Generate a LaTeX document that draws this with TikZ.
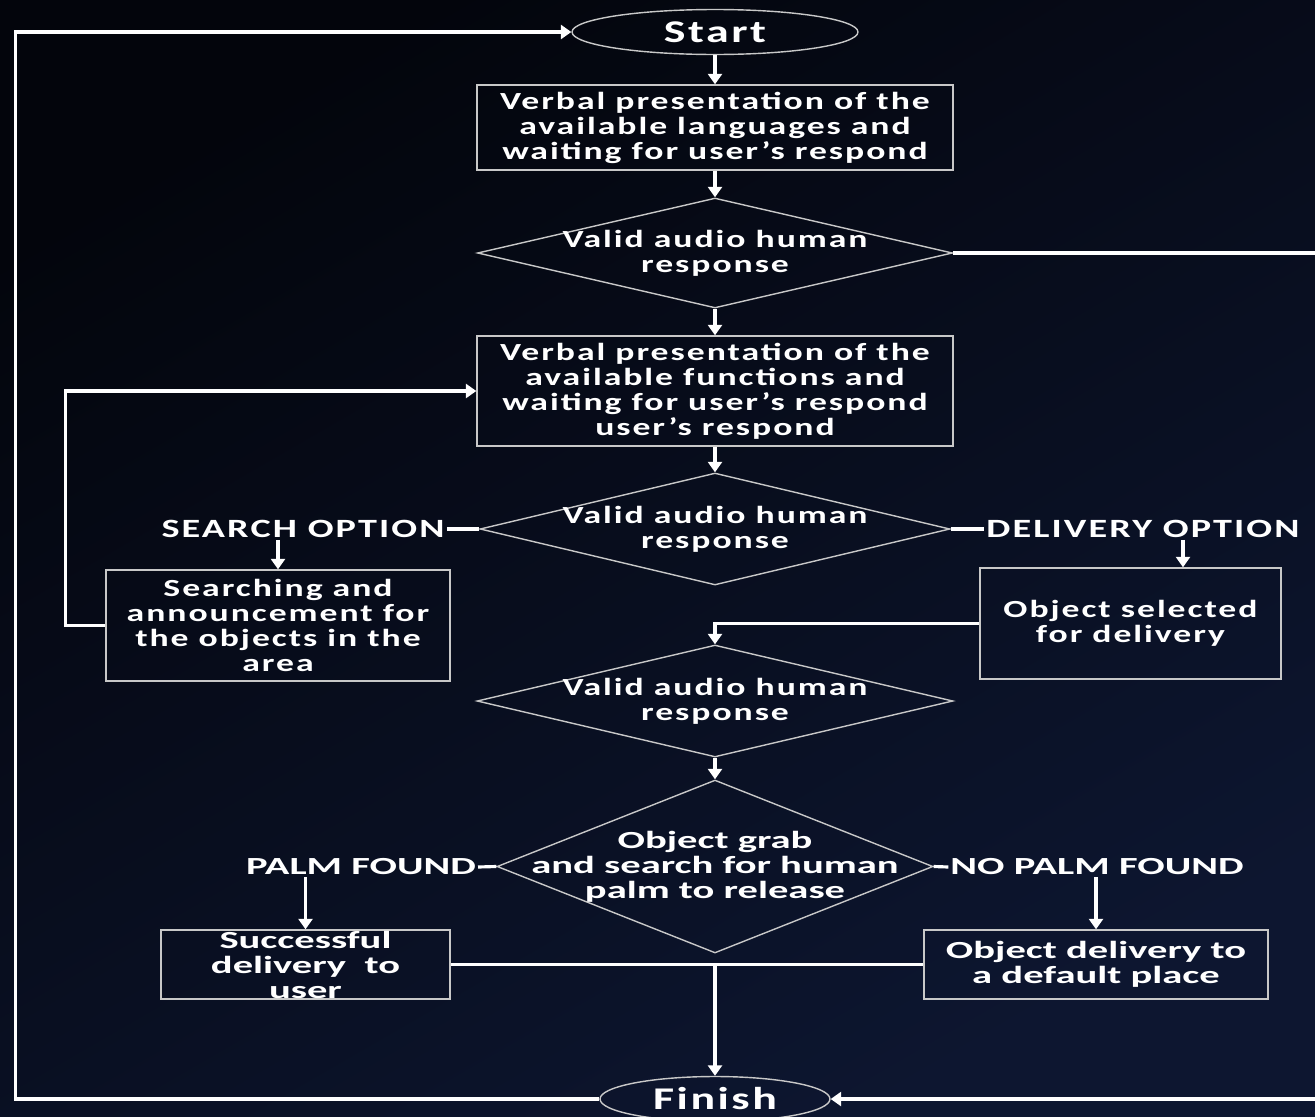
\documentclass[tikz,border=0pt]{standalone}
\usepackage{fontspec}
\setmainfont{Carlito}
\newfontfamily\topfont{Carlito}[FakeStretch=1.45,LetterSpace=8]
\newfontfamily\lowfont{Carlito}[FakeStretch=1.65]
\usepackage{tikz}
\usetikzlibrary{positioning,shapes,arrows.meta,calc}

\definecolor{bgdark}{RGB}{3,5,12}
\definecolor{bgblue}{RGB}{13,22,48}
\definecolor{edge}{RGB}{200,200,200}

\begin{document}
\begin{tikzpicture}[x=0.02cm, y=-0.02cm,
    txt/.style={text=white, align=center, font=\topfont\bfseries\fontsize{14}{14.2}\selectfont},
    lowtxt/.style={text=white, align=center, font=\lowfont\bfseries\fontsize{14}{14.2}\selectfont},
    opt/.style={txt, font=\topfont\bfseries\fontsize{15}{15}\selectfont, inner sep=1pt},
    bigtxt/.style={txt, font=\topfont\bfseries\fontsize{18}{18}\selectfont},
    box/.style={draw=edge, line width=0.8pt, rectangle, inner sep=1pt},
    term/.style={draw=edge, line width=0.8pt, ellipse, inner sep=0pt},
    decide/.style={draw=edge, line width=0.8pt, diamond, inner sep=0pt},
    line/.style={white, line width=1.8pt},
    arr/.style={line, -{Triangle[width=8pt,length=6pt]}}]

    % Background
    \useasboundingbox (0,0) rectangle (1315,1116);
    \shade[shading=axis, top color=bgdark, bottom color=bgblue, shading angle=30] (0,0) rectangle (1315,1116);

    % Upper part
    \node[term, bigtxt, minimum width=5.72cm, minimum height=0.9cm] (start) at (715,32) {Start};
    \node[box, txt, minimum width=9.52cm, minimum height=1.7cm] (lang) at (715,127.5)
        {Verbal presentation of the\\available languages and\\waiting for user’s respond};
    \node[decide, minimum width=9.5cm, minimum height=2.2cm,
        label={[txt]center:Valid audio human\\response}] (valid1) at (715,253) {};
    \node[box, txt, minimum width=9.52cm, minimum height=2.2cm] (func) at (715,391)
        {Verbal presentation of the\\available functions and\\waiting for user’s respond\\user’s respond};
    \node[decide, minimum width=9.4cm, minimum height=2.24cm,
        label={[txt]center:Valid audio human\\response}] (valid2) at (715,529) {};

    % Options
    \node[opt] (search) at (303,529) {SEARCH OPTION};
    \node[opt] (deliv) at (1143,529) {DELIVERY OPTION};
    \node[box, txt, minimum width=6.88cm, minimum height=2.22cm] (searchbox) at (278,625.5)
        {Searching and\\announcement for\\the objects in the\\area};
    \node[box, txt, minimum width=6.02cm, minimum height=2.22cm] (delivbox) at (1130.5,623.5)
        {Object selected\\for delivery};

    % Lower part
    \node[decide, minimum width=9.52cm, minimum height=2.24cm,
        label={[txt]center:Valid audio human\\response}] (valid3) at (715,701) {};
    \node[decide, minimum width=8.72cm, minimum height=3.46cm,
        label={[lowtxt]center:Object grab\\and search for human\\palm to release}] (grab) at (715,866.5) {};
    \node[lowtxt, inner sep=1pt] (palm) at (361,867) {PALM FOUND};
    \node[lowtxt, inner sep=1pt] (nopalm) at (1097,867) {NO PALM FOUND};
    \node[box, lowtxt, minimum width=5.78cm, minimum height=1.38cm, inner ysep=0pt] (success) at (305.5,964.5)
        {Successful\\delivery\ \ to\\user};
    \node[box, lowtxt, minimum width=6.88cm, minimum height=1.38cm] (default) at (1096,964.5)
        {Object delivery to\\a default place};
    \node[term, bigtxt, minimum width=4.6cm, minimum height=0.9cm] (finish) at (715,1099) {Finish};

    \coordinate (rtop) at (1315,253);
    \coordinate (rbot) at (1315,1099);
    \coordinate (join) at (success.east -| grab.south);

    % Connectors
    \draw[arr] (start) -- (lang);
    \draw[arr] (lang) -- (valid1);
    \draw[arr] (valid1) -- (func);
    \draw[arr] (func) -- (valid2);
    \draw[line] (valid2.west) -- (search.east);
    \draw[line] (valid2.east) -- (deliv.west);
    \draw[arr] (search.south -| searchbox.north) -- (searchbox.north);
    \draw[arr] ([xshift=0.8cm]deliv.south) -- ([xshift=0.8cm]deliv.south |- delivbox.north);
    \draw[arr] (searchbox.west) -- ++(-40,0) |- (func.west);
    \draw[arr] (delivbox.west) -| (valid3.north);
    \draw[arr] (valid3) -- (grab);
    \draw[line] (grab.west) -- (palm.east);
    \draw[line] (grab.east) -- (nopalm.west);
    \draw[arr] (palm.south -| success.north) -- (success.north);
    \draw[arr] (nopalm.south -| default.north) -- (default.north);
    \draw[line] (success.east) -- (default.west);
    \draw[arr] (join) -- (finish);
    \draw[arr] (finish.west) -- ++(-584,0) |- (start.west);
    \draw[line] (valid1.east) -- (rtop);
    \draw[arr] (rbot) -- (finish.east);
\end{tikzpicture}
\end{document}
